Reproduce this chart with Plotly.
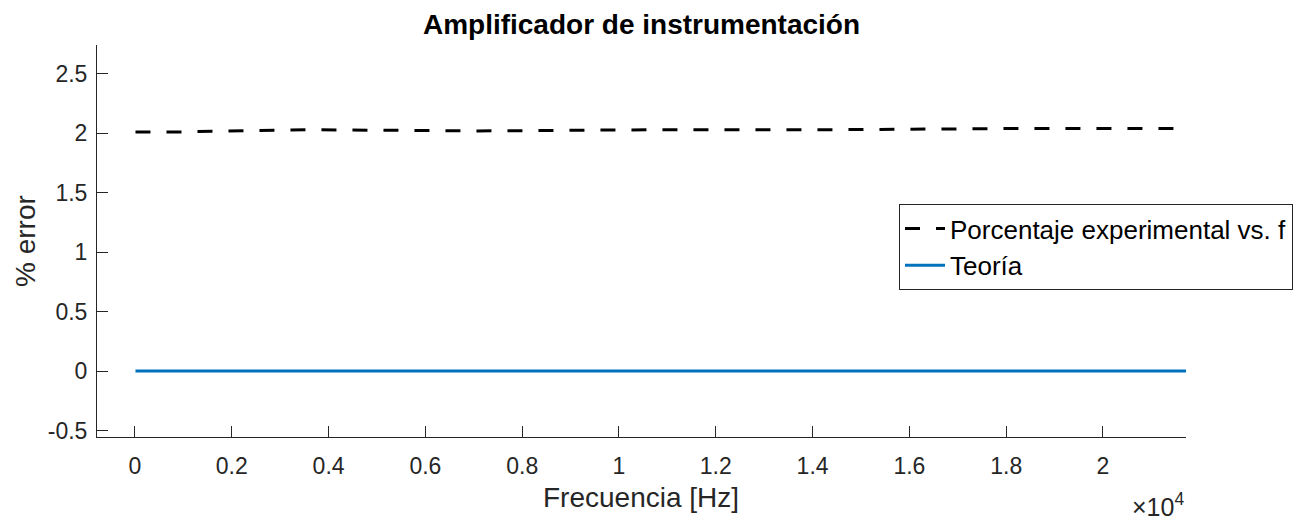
import plotly.graph_objects as go

# Data
freq_hz = [10, 655, 3660, 7080, 10680, 14310, 18000, 21715]
error_experimental = [2.01, 2.01, 2.03, 2.02, 2.03, 2.03, 2.04, 2.04]
error_theory = [0, 0, 0, 0, 0, 0, 0, 0]

x_tick_vals = [0, 2000, 4000, 6000, 8000, 10000, 12000, 14000, 16000, 18000, 20000]
x_tick_text = ["0", "0.2", "0.4", "0.6", "0.8", "1", "1.2", "1.4", "1.6", "1.8", "2"]
y_tick_vals = [-0.5, 0, 0.5, 1, 1.5, 2, 2.5]
y_tick_text = ["-0.5", "0", "0.5", "1", "1.5", "2", "2.5"]

FONT = "Liberation Sans, Arial, Helvetica, sans-serif"
TXT = "#262626"

# page is offset by the 8px body margin
W, H = 1294, 511

def py(page_y):
    return (437 - page_y) / 392

def px(page_x):
    return (page_x - 97) / 1089

fig = go.Figure()
fig.add_trace(go.Scatter(
    x=freq_hz, y=error_experimental, mode="lines",
    name="Porcentaje experimental vs. f",
    line=dict(color="#000000", width=3, dash="15px,16px"),
))
fig.add_trace(go.Scatter(
    x=freq_hz, y=error_theory, mode="lines",
    name="Teoría",
    line=dict(color="#0072BD", width=3),
))

fig.update_layout(
    width=W, height=H,
    margin=dict(l=89, r=116, t=37, b=82, autoexpand=False),
    paper_bgcolor="white", plot_bgcolor="white",
    font=dict(family=FONT, color=TXT, size=22),
    showlegend=True,
    title=dict(
        text="<b>Amplificador de instrumentación</b>",
        x=0.5, xanchor="center", xref="paper",
        y=1 - 16 / H, yanchor="middle", yref="container",
        font=dict(family=FONT, size=28, color="#000000"),
    ),
    legend=dict(
        x=px(899), y=py(204), xanchor="left", yanchor="top",
        bgcolor="white", bordercolor=TXT, borderwidth=1,
        font=dict(family=FONT, size=26, color="#000000"),
        itemwidth=40,
    ),
    xaxis=dict(
        range=[-785, 21715], tickmode="array",
        tickvals=x_tick_vals, ticktext=x_tick_text,
        ticks="inside", ticklen=11, tickcolor=TXT, tickwidth=1,
        showline=True, linecolor=TXT, linewidth=1, mirror=False,
        showgrid=False, zeroline=False,
        tickfont=dict(size=23, color=TXT),
        ticklabelstandoff=8,
    ),
    yaxis=dict(
        range=[-0.555, 2.743], tickmode="array",
        tickvals=y_tick_vals, ticktext=y_tick_text,
        ticks="inside", ticklen=11, tickcolor=TXT, tickwidth=1,
        showline=True, linecolor=TXT, linewidth=1, mirror=False,
        showgrid=False, zeroline=False,
        tickfont=dict(size=23, color=TXT),
        ticklabelstandoff=4,
    ),
    annotations=[
        dict(text="Frecuencia [Hz]", xref="paper", yref="paper",
             x=px(641), y=py(497), xanchor="center", yanchor="middle",
             showarrow=False, font=dict(family=FONT, size=28, color=TXT)),
        dict(text="% error", xref="paper", yref="paper",
             x=px(25), y=py(241), xanchor="center", yanchor="middle",
             textangle=-90, showarrow=False, font=dict(family=FONT, size=28, color=TXT)),
        dict(text="×10<sup>4</sup>", xref="paper", yref="paper",
             x=1.0, y=py(523), xanchor="right", yanchor="bottom",
             showarrow=False, font=dict(family=FONT, size=25, color=TXT)),
    ],
)

fig.write_html("out.html")
